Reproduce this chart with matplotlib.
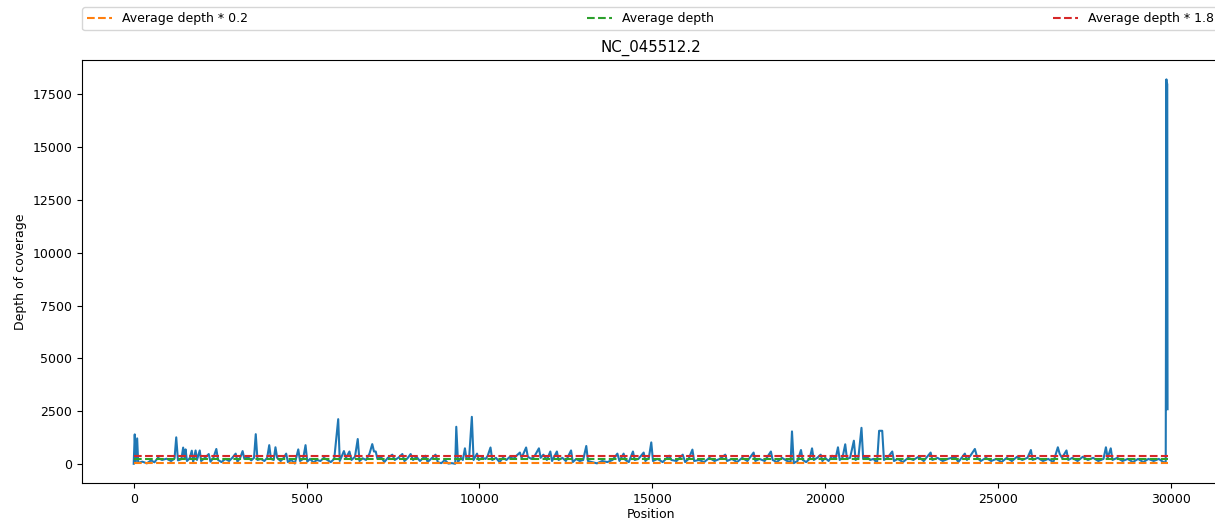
import numpy as np
import matplotlib
matplotlib.use("Agg")
import matplotlib.pyplot as plt

plt.rcParams["font.size"] = 9

# -----------------------------
# Coverage (position, depth)
# -----------------------------
cov_points = [
    (0, 20), (30, 1410), (60, 100), (100, 1220), (130, 60), (250, 120), (380, 40), (500, 180),
    (600, 90), (700, 300), (820, 200), (950, 260),
    (1080, 150), (1180, 260), (1230, 1270), (1280, 180), (1380, 240), (1430, 785), (1470, 300),
    (1500, 700), (1540, 150), (1620, 280), (1680, 640), (1720, 100), (1790, 650), (1830, 200),
    (1910, 650), (1950, 150),
    (2060, 300), (2170, 480), (2220, 120), (2300, 280), (2390, 720), (2440, 200), (2540, 100),
    (2650, 250), (2760, 150), (2850, 300), (2950, 500), (3000, 120),
    (3080, 300), (3150, 620), (3200, 250), (3300, 350), (3400, 180), (3480, 300), (3530, 1420),
    (3580, 200), (3680, 250), (3780, 150), (3860, 300), (3920, 900), (3970, 250),
    (4050, 200), (4100, 800), (4150, 300), (4250, 150), (4340, 300), (4410, 500), (4460, 100),
    (4560, 200), (4660, 30), (4760, 700), (4810, 150), (4900, 250), (4970, 900), (5020, 120),
    (5100, 250), (5200, 80), (5300, 200), (5400, 150), (5500, 300), (5600, 200), (5700, 100),
    (5800, 250), (5915, 2130), (5960, 150),
    (6080, 620), (6140, 300), (6240, 600), (6300, 200), (6400, 350), (6480, 1190), (6530, 150),
    (6620, 280), (6720, 200), (6820, 500), (6900, 950), (6950, 600), (7000, 600), (7050, 250),
    (7150, 350), (7250, 100), (7350, 300), (7480, 450), (7550, 200), (7650, 300), (7770, 480),
    (7830, 150), (7920, 280), (8010, 480),
    (8080, 200), (8180, 350), (8280, 150), (8360, 280), (8440, 400), (8500, 100), (8600, 250),
    (8730, 450), (8800, 80), (8900, 50), (9000, 200),
    (9100, 30), (9200, 50), (9300, 20), (9330, 1770), (9380, 100), (9460, 300), (9520, 200),
    (9580, 750), (9620, 300), (9700, 250), (9780, 2240), (9830, 200), (9930, 500), (9980, 200),
    (10080, 300), (10180, 250), (10240, 400), (10320, 790), (10370, 200), (10480, 300),
    (10580, 100), (10680, 300), (10780, 200), (10880, 350), (10980, 250),
    (11070, 400), (11170, 550), (11220, 300), (11350, 790), (11400, 350), (11500, 250),
    (11600, 400), (11720, 750), (11770, 300), (11850, 450), (11950, 200),
    (12050, 600), (12100, 150), (12240, 600), (12290, 200), (12400, 300), (12500, 150),
    (12650, 650), (12700, 100), (12800, 250), (12900, 150), (13000, 200),
    (13090, 860), (13140, 150), (13250, 100), (13400, 40), (13550, 150), (13700, 100),
    (13850, 200), (13990, 500),
    (14050, 150), (14170, 500), (14220, 200), (14320, 100), (14440, 600), (14490, 200),
    (14600, 250), (14750, 550), (14800, 150), (14900, 300), (14970, 1030), (15020, 150),
    (15150, 250), (15300, 100), (15490, 400), (15550, 200), (15700, 150), (15880, 450),
    (15950, 100),
    (16050, 250), (16160, 690), (16210, 150), (16350, 200), (16500, 100), (16650, 300),
    (16800, 150), (16950, 250),
    (17110, 450), (17160, 150), (17300, 250), (17450, 100), (17600, 300), (17750, 150),
    (17930, 550), (17980, 150),
    (18100, 250), (18250, 150), (18430, 600), (18480, 200), (18600, 100), (18750, 300),
    (18900, 150), (19000, 100),
    (19040, 1550), (19090, 50), (19200, 150), (19300, 670), (19350, 200), (19450, 100),
    (19550, 250), (19620, 750), (19670, 200), (19770, 300), (19870, 450), (19920, 150),
    (20000, 300), (20100, 150), (20200, 400), (20300, 250), (20370, 800), (20420, 200),
    (20500, 300), (20580, 940), (20630, 250), (20720, 300), (20830, 1110), (20880, 200),
    (20960, 300), (21050, 1720), (21100, 250),
    (21200, 350), (21300, 200), (21400, 250), (21500, 50), (21560, 1580), (21650, 1580),
    (21700, 200), (21800, 300), (21940, 600), (21990, 150),
    (22100, 250), (22250, 100), (22400, 300), (22550, 200), (22700, 350), (22850, 150),
    (23050, 550), (23100, 200),
    (23250, 300), (23400, 150), (23550, 250), (23760, 350), (23850, 100), (24040, 500),
    (24100, 200), (24200, 400), (24330, 720), (24400, 300), (24500, 150), (24650, 300),
    (24800, 150), (24950, 250),
    (25100, 100), (25250, 300), (25400, 150), (25550, 350), (25700, 200), (25850, 300),
    (25950, 670), (26000, 200),
    (26150, 300), (26300, 150), (26450, 250), (26600, 100), (26730, 800), (26780, 500),
    (26850, 300), (26980, 650), (27030, 200),
    (27150, 300), (27300, 150), (27450, 350), (27600, 200), (27750, 300), (27900, 150),
    (28050, 250), (28120, 800), (28170, 300),
    (28260, 750), (28310, 200), (28450, 300), (28600, 150), (28750, 250), (28900, 100),
    (29050, 250), (29200, 100),
    (29350, 250), (29500, 150), (29650, 250), (29780, 100), (29850, 80), (29870, 18200),
    (29885, 3000), (29890, 18000), (29903, 2600),
]
position = [p for p, d in cov_points]
depth = [d for p, d in cov_points]

avg_depth = 225
seq_name = "NC_045512.2"

# -----------------------------
# Plot
# -----------------------------
fig = plt.figure(figsize=(12.15, 5.23), dpi=100)
# right edge sits just past the figure, as in the cropped original
ax = fig.add_axes([0.0675, 0.0765, 0.936, 0.8085])

ax.plot(position, depth, color="C0", lw=1.5)

x_ends = [position[0], position[-1]]
ax.plot(x_ends, [avg_depth * 0.2] * 2, "--", color="C1", lw=1.5, label="Average depth * 0.2")
ax.plot(x_ends, [avg_depth] * 2, "--", color="C2", lw=1.5, label="Average depth")
ax.plot(x_ends, [avg_depth * 1.8] * 2, "--", color="C3", lw=1.5, label="Average depth * 1.8")

ax.set_xlabel("Position", labelpad=2)
ax.set_ylabel("Depth of coverage")
ax.set_title(seq_name)
ax.legend(bbox_to_anchor=(0, 1.071, 1, 0.052), loc="lower left", mode="expand",
          ncol=3, borderaxespad=0)

fig.savefig("out.png", dpi=100)
